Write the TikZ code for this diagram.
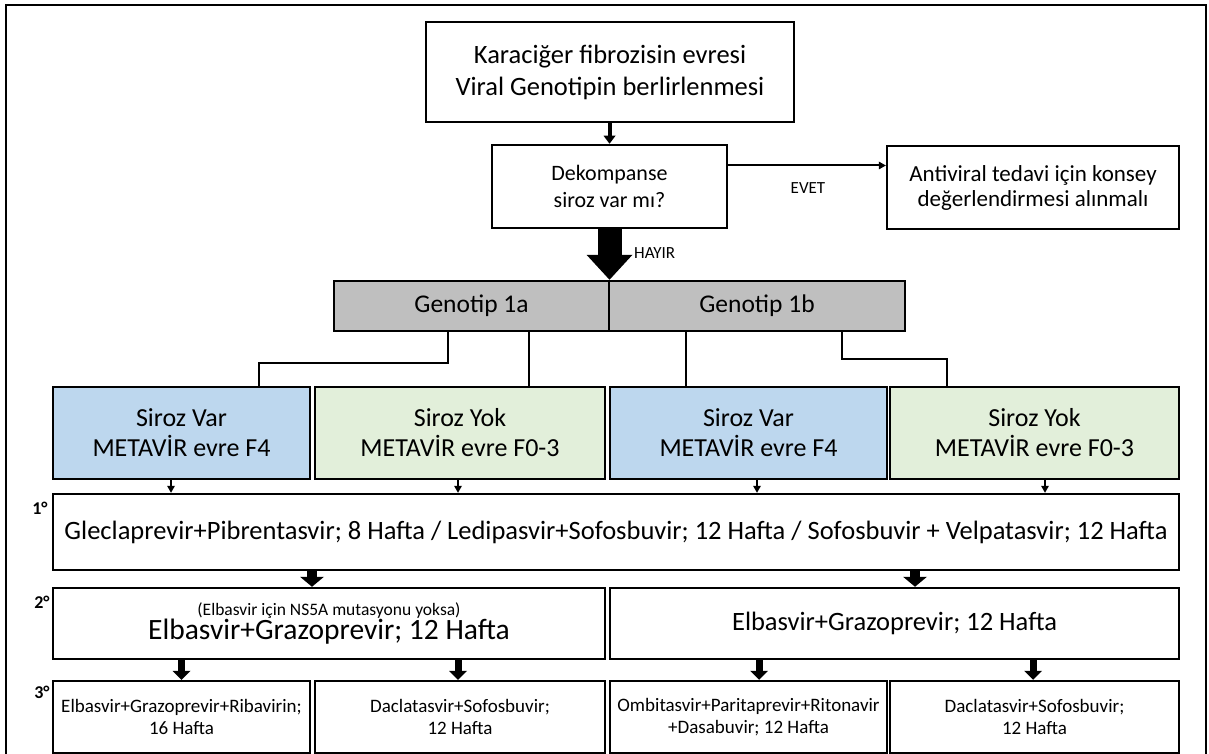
\documentclass[tikz,border=0pt]{standalone}
\usepackage{fontspec}
\setmainfont{Carlito}
\usetikzlibrary{arrows.meta,calc}
\definecolor{gbox}{HTML}{BFBFBF}
\definecolor{bbox}{HTML}{BDD7EE}
\definecolor{lbox}{HTML}{E2EFDA}
\newcommand\fs[2]{\fontsize{#1}{#2}\selectfont}
\begin{document}
\begin{tikzpicture}[x=1pt,y=-1pt,
  box/.style={draw=black, line width=2.5pt, fill=white, inner sep=0pt, align=center},
  conn/.style={line width=2pt},
  smallarr/.style={line width=2pt, -{Triangle[width=8pt,length=7pt,line width=0pt]}},
  toparr/.style={line width=4pt, -{Triangle[width=12pt,length=8pt,line width=0pt]}},
  bigarr/.style={line width=24pt, -{Triangle[width=46pt,length=25pt,line width=0pt]}},
  midarr/.style={line width=10pt, -{Triangle[width=24pt,length=10pt,line width=0pt]}},
  lowarr/.style={line width=7pt, -{Triangle[width=18pt,length=9pt,line width=0pt]}},
  lab/.style={font=\bfseries\fs{18}{20}, inner sep=0pt},
  note/.style={font=\fs{17}{20}, inner sep=0pt}
]
\useasboundingbox (0,0) rectangle (1209,754);
\fill[white] (0,0) rectangle (1209,754);
\draw[line width=2pt] (6,760) -- (6,5) -- (1206,5) -- (1206,760);

% boxes
\node[box, minimum width=368pt, minimum height=100pt, font=\fs{26.5}{32}] (top) at (610,72) {Karaciğer fibrozisin evresi\\Viral Genotipin berlirlenmesi};
\node[box, minimum width=235pt, minimum height=83pt, font=\fs{22}{27}] (dek) at (609.5,186.5) {Dekompanse\\siroz var mı?};
\node[box, minimum width=292pt, minimum height=83pt, font=\fs{23}{25}] (anti) at (1033,187.5) {Antiviral tedavi için konsey\\değerlendirmesi alınmalı};
\node[box, fill=gbox, minimum width=275pt, minimum height=50pt, font=\fs{25.5}{30}] (g1a) at (471.5,306) {Genotip 1a};
\node[box, fill=gbox, minimum width=296pt, minimum height=50pt, font=\fs{25.5}{30}] (g1b) at (757,306) {Genotip 1b};

\node[box, fill=bbox, minimum width=257pt, minimum height=92pt, font=\fs{26}{30}] (sv1) at (181.5,433) {Siroz Var\\METAVİR evre F4};
\node[box, fill=lbox, minimum width=290pt, minimum height=92pt, font=\fs{26}{30}] (sy1) at (460,433) {Siroz Yok\\METAVİR evre F0-3};
\node[box, fill=bbox, minimum width=277pt, minimum height=92pt, font=\fs{26}{30}] (sv2) at (748.5,433) {Siroz Var\\METAVİR evre F4};
\node[box, fill=lbox, minimum width=289pt, minimum height=92pt, font=\fs{26}{30}] (sy2) at (1034.5,433) {Siroz Yok\\METAVİR evre F0-3};

\node[box, minimum width=1126pt, minimum height=76pt, font=\fs{26.5}{30}] (p1) at (616,532) {Gleclaprevir+Pibrentasvir; 8 Hafta / Ledipasvir+Sofosbuvir; 12 Hafta / Sofosbuvir + Velpatasvir; 12 Hafta};
\node[box, minimum width=552pt, minimum height=71pt] (p2a) at (329,623.5) {\fs{17.5}{25}(Elbasvir için NS5A mutasyonu yoksa)\\\fs{29.5}{30}Elbasvir+Grazoprevir; 12 Hafta};
\node[box, minimum width=569pt, minimum height=71pt, font=\fs{26.5}{30}] (p2b) at (894.5,623.5) {Elbasvir+Grazoprevir; 12 Hafta};

\node[box, minimum width=257pt, minimum height=72pt, font=\fs{19}{22}] (p3a) at (181.5,717) {Elbasvir+Grazoprevir+Ribavirin;\\16 Hafta};
\node[box, minimum width=290pt, minimum height=72pt, font=\fs{19}{22}] (p3b) at (460,717) {Daclatasvir+Sofosbuvir;\\12 Hafta};
\node[box, minimum width=277pt, minimum height=72pt, font=\fs{19}{22}] (p3c) at (748.5,717) {Ombitasvir+Paritaprevir+Ritonavir\\+Dasabuvir; 12 Hafta};
\node[box, minimum width=289pt, minimum height=72pt, font=\fs{19}{22}] (p3d) at (1034.5,717) {Daclatasvir+Sofosbuvir;\\12 Hafta};

% labels
\node[lab] (l1) at (40,508) {1°};
\node[lab] (l2) at (42,602) {2°};
\node[lab] (l3) at (42,692) {3°};
\node[note] (evet) at (808,188) {EVET};
\node[note, anchor=west] (hayir) at (634,253) {HAYIR};

% arrows
\draw[toparr] (top.south -| dek.north) -- (dek.north);
\draw[smallarr] ([yshift=21pt]dek.east) -- ([yshift=21pt]dek.east -| anti.west);
\draw[bigarr] (dek.south) -- (dek.south |- g1a.north);

% genotype connectors
\path ([xshift=115pt]g1a.south west) coordinate (ga1)
      ([xshift=196pt]g1a.south west) coordinate (ga2)
      ([xshift=78pt]g1b.south west) coordinate (gb1)
      ([xshift=234pt]g1b.south west) coordinate (gb2)
      ([xshift=77pt]sv1.north) coordinate (s1)
      ([xshift=-87.5pt]sy2.north) coordinate (s4);
\draw[conn] (ga1) -- ++(0,31) -| (s1);
\draw[conn] (ga2) -- (ga2 |- sy1.north);
\draw[conn] (gb1) -- (gb1 |- sv2.north);
\draw[conn] (gb2) -- ++(0,27) -| (s4);

% small arrows to 1st line
\draw[smallarr] ([xshift=-10.5pt]sv1.south) -- ([xshift=-10.5pt]sv1.south |- p1.north);
\draw[smallarr] ([xshift=-2pt]sy1.south) -- ([xshift=-2pt]sy1.south |- p1.north);
\draw[smallarr] ([xshift=8.5pt]sv2.south) -- ([xshift=8.5pt]sv2.south |- p1.north);
\draw[smallarr] ([xshift=10.5pt]sy2.south) -- ([xshift=10.5pt]sy2.south |- p1.north);

% 1st -> 2nd
\draw[midarr] ([xshift=-17pt]p2a.north |- p1.south) -- ([xshift=-17pt]p2a.north);
\draw[midarr] ([xshift=20.5pt]p2b.north |- p1.south) -- ([xshift=20.5pt]p2b.north);

% 2nd -> 3rd
\draw[lowarr] (p3a.north |- p2a.south) -- (p3a.north);
\draw[lowarr] ([xshift=-2pt]p3b.north |- p2a.south) -- ([xshift=-2pt]p3b.north);
\draw[lowarr] ([xshift=10.5pt]p3c.north |- p2b.south) -- ([xshift=10.5pt]p3c.north);
\draw[lowarr] ([xshift=-1.5pt]p3d.north |- p2b.south) -- ([xshift=-1.5pt]p3d.north);
\end{tikzpicture}
\end{document}
